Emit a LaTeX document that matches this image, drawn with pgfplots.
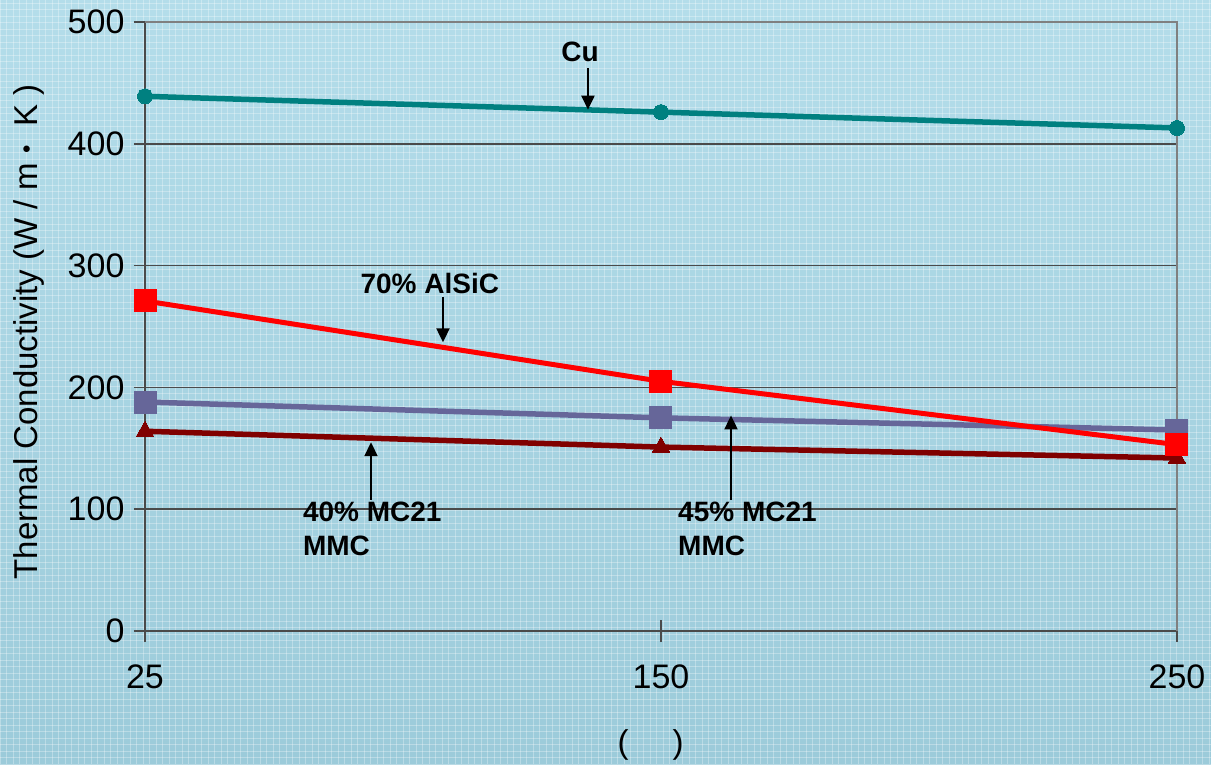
\documentclass[border=0pt]{standalone}
\usepackage{fontspec}
\setmainfont{Liberation Sans}
\usepackage{pgfplots}
\pgfplotsset{compat=1.18}
\usetikzlibrary{arrows.meta}

\definecolor{bgtop}{HTML}{B4DDEA}
\definecolor{bgbot}{HTML}{9CCBDA}
\definecolor{cucol}{HTML}{008080}
\definecolor{alsic}{HTML}{FF0000}
\definecolor{mcfive}{HTML}{666699}
\definecolor{mcfour}{HTML}{800000}
\definecolor{gridc}{HTML}{4A4A4A}
\definecolor{framec}{HTML}{808080}

\begin{document}
\begin{tikzpicture}[x=1pt,y=1pt]
  % page background with a fine paper texture
  \useasboundingbox (0,0) rectangle (1211,764);
  \shade[top color=bgtop, bottom color=bgbot] (0,0) rectangle (1211,764);
  \foreach \i in {0,6.5,...,1211} {\draw[white, opacity=0.3, line width=1pt] (\i,0) -- (\i,764);}
  \foreach \j in {0,6.5,...,764} {\draw[white, opacity=0.3, line width=1pt] (0,\j) -- (1211,\j);}

  \begin{axis}[
    at={(145pt,133pt)}, anchor=south west,
    scale only axis, width=1032pt, height=609pt,
    xmin=0, xmax=2, ymin=0, ymax=500,
    xtick={0,1,2}, xticklabels={25,150,250},
    ytick={0,100,...,500},
    axis x line*=bottom, axis y line*=left,
    axis line style={draw=gridc, line width=1.5pt},
    tick style={draw=gridc, line width=1.5pt},
    major tick length=22pt, tick align=center,
    ymajorgrids, grid style={draw=gridc, line width=1.5pt},
    /pgf/number format/assume math mode=true,
    ticklabel style={font=\fontsize{34}{39}\selectfont},
    xticklabel style={yshift=-19pt},
    yticklabel style={xshift=-6pt},
    ylabel={Thermal Conductivity (W / m\hspace{10pt}\raisebox{3pt}{\fontsize{24}{24}\selectfont •}\hspace{18pt}K )},
    ylabel style={font=\fontsize{33}{38}\selectfont, at={(axis description cs:-0.1124,0.491)}, anchor=center},
    xlabel={(\hspace{44pt})},
    xlabel style={font=\fontsize{33}{38}\selectfont, at={(axis description cs:0.490,0)}, anchor=center, yshift=-114pt},
    clip=false,
  ]
    % plot-area frame on top and right
    \draw[framec, line width=1.6pt] (axis cs:0,500) -- (axis cs:2,500) -- (axis cs:2,0);

    % Cu
    \addplot[cucol, line width=5.5pt, mark=*, mark size=7.5pt,
      mark options={solid, fill=cucol, draw=cucol, line width=0pt}]
      coordinates {(0,439) (1,426) (2,413)};
    % 40% MC21 MMC
    \addplot[mcfour, line width=5.5pt, mark=triangle*, mark size=10pt,
      mark options={solid, fill=mcfour, draw=mcfour, line width=0pt}]
      coordinates {(0,164) (1,151) (2,142)};
    % 45% MC21 MMC
    \addplot[mcfive, line width=5.5pt, mark=square*, mark size=11pt,
      mark options={solid, fill=mcfive, draw=mcfive, line width=0pt}]
      coordinates {(0,188) (1,175) (2,165)};
    % 70% AlSiC
    \addplot[alsic, line width=5pt, mark=square*, mark size=11pt,
      mark options={solid, fill=alsic, draw=alsic, line width=0pt}]
      coordinates {(0,271) (1,205) (2,153)};

    % callouts
    \tikzset{callout/.style={font=\fontsize{28}{34}\selectfont\bfseries, inner sep=0pt}}
    \node[callout] at (axis cs:0.843,475.4) {Cu};
    \draw[-{Triangle[length=14pt,width=13pt]}, line width=2pt] (axis cs:0.8585,462) -- (axis cs:0.8585,428);

    \node[callout] at (axis cs:0.552,285.7) {70\% AlSiC};
    \draw[-{Triangle[length=14pt,width=13pt]}, line width=2pt] (axis cs:0.5775,274) -- (axis cs:0.5775,237);

    \node[callout, anchor=north west, align=left] at (axis cs:0.306,106) {40\% MC21\\MMC};
    \draw[-{Triangle[length=14pt,width=13pt]}, line width=2pt] (axis cs:0.438,107.6) -- (axis cs:0.438,155);

    \node[callout, anchor=north west, align=left] at (axis cs:1.033,106) {45\% MC21\\MMC};
    \draw[-{Triangle[length=14pt,width=13pt]}, line width=2pt] (axis cs:1.1357,107.6) -- (axis cs:1.1357,177);
  \end{axis}
\end{tikzpicture}
\end{document}
